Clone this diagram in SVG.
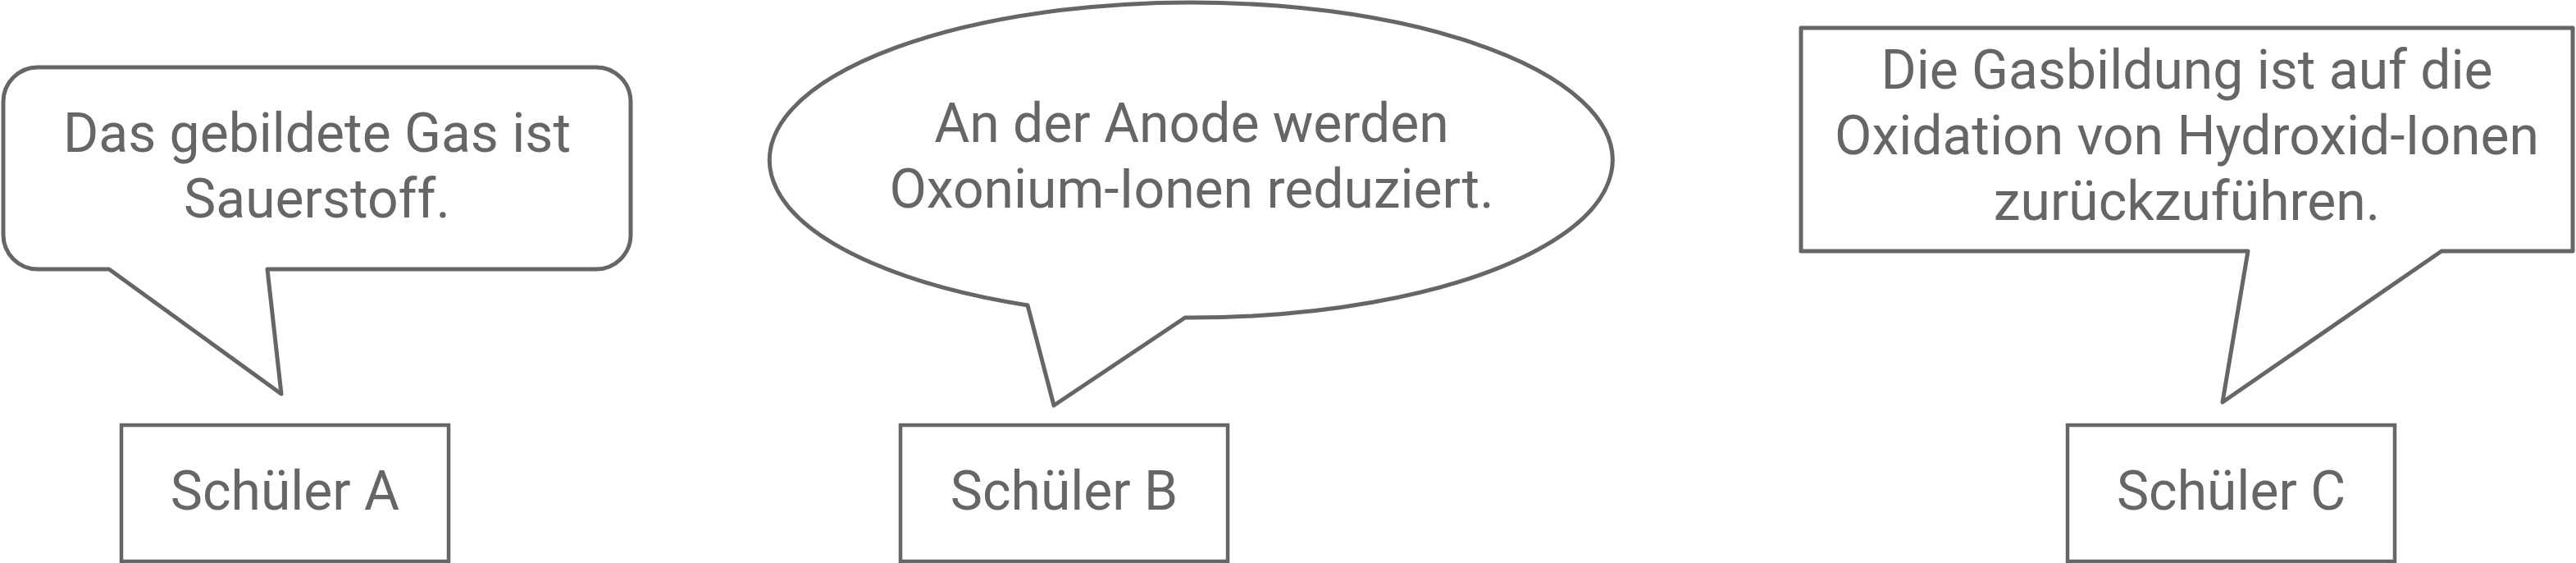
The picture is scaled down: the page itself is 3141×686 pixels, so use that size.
<svg xmlns="http://www.w3.org/2000/svg" width="3141" height="686" viewBox="0 0 3141 686">
<style>
.bubble{fill:#ffffff;stroke:#666666;stroke-width:5;stroke-linejoin:round}
.box{fill:#ffffff;stroke:#666666;stroke-width:4.5}
.t{font-family:Roboto,"Liberation Sans",sans-serif;font-size:66px;fill:#666666;text-anchor:middle}
</style>
<rect width="3141" height="686" fill="#ffffff"/>
<g id="bubbleA">
<path class="bubble" d="M 46 82 H 727 A 42 42 0 0 1 769 124 V 286 A 42 42 0 0 1 727 328 H 326 L 343 480 L 133 328 H 46 A 42 42 0 0 1 4 286 V 124 A 42 42 0 0 1 46 82 Z"/>
<text class="t" x="386.5" y="185">Das gebildete Gas ist</text>
<text class="t" x="386.5" y="265">Sauerstoff.</text>
</g>
<g id="bubbleB">
<path class="bubble" d="M 1253 372 A 514 192 0 1 1 1445 387 L 1285 494 Z"/>
<text class="t" x="1453" y="173">An der Anode werden</text>
<text class="t" x="1453" y="253">Oxonium-Ionen reduziert.</text>
</g>
<g id="bubbleC">
<path class="bubble" d="M 2196 34 H 3137 V 306 H 2977 L 2710 490 L 2741 306 H 2196 Z"/>
<text class="t" x="2666.5" y="108">Die Gasbildung ist auf die</text>
<text class="t" x="2666.5" y="188">Oxidation von Hydroxid-Ionen</text>
<text class="t" x="2666.5" y="268">zurückzuführen.</text>
</g>
<g id="studentA">
<rect class="box" x="148" y="518" width="399" height="166"/>
<text class="t" x="347.5" y="621">Schüler A</text>
</g>
<g id="studentB">
<rect class="box" x="1098" y="518" width="399" height="166"/>
<text class="t" x="1297.5" y="621">Schüler B</text>
</g>
<g id="studentC">
<rect class="box" x="2521" y="518" width="399" height="166"/>
<text class="t" x="2720.5" y="621">Schüler C</text>
</g>
<g id="connectors"></g>
</svg>
